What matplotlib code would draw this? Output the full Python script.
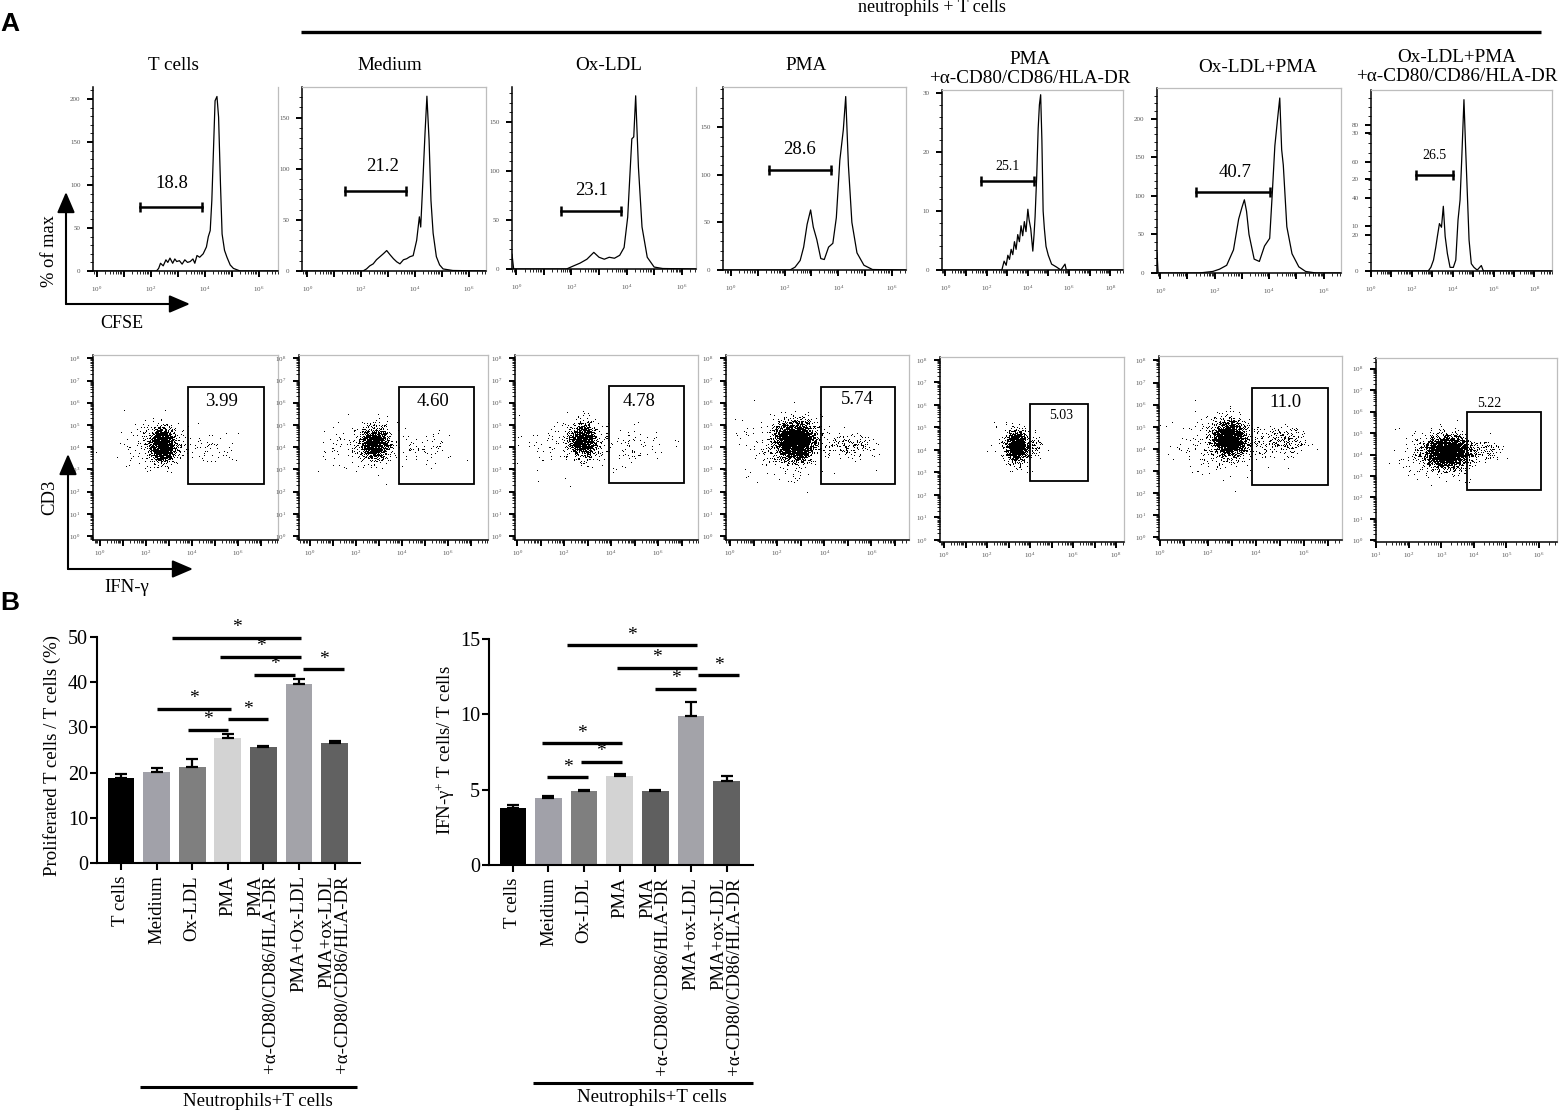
import numpy as np
import matplotlib
matplotlib.use("Agg")
import matplotlib.pyplot as plt
from matplotlib.lines import Line2D
from matplotlib.patches import FancyArrowPatch, Rectangle

plt.rcParams['font.family'] = ['Liberation Serif', 'DejaVu Serif']
plt.rcParams['mathtext.fontset'] = 'custom'
plt.rcParams['mathtext.rm'] = 'Liberation Serif'
plt.rcParams['mathtext.it'] = 'Liberation Serif:italic'
plt.rcParams['mathtext.bf'] = 'Liberation Serif:bold'

# ======================= DATA =======================
# ---- Panel A, row 1: CFSE histograms (x = log10 CFSE, y = count) ----
hist_titles = ['T cells', 'Medium', 'Ox-LDL', 'PMA',
               'PMA\n+α-CD80/CD86/HLA-DR', 'Ox-LDL+PMA',
               'Ox-LDL+PMA\n+α-CD80/CD86/HLA-DR']
hist_gate_labels = ['18.8', '21.2', '23.1', '28.6', '25.1', '40.7', '26.5']
hist_gate_lo = [1.59, 1.41, 1.63, 1.43, 1.72, 1.30, 2.20]
hist_gate_hi = [3.89, 3.67, 3.81, 3.72, 4.32, 4.02, 4.03]
hist_gate_y = [74, 78, 59, 105, 15.1, 105, 52.6]
hist_label_x = [2.78, 2.78, 2.72, 2.56, 3.01, 2.73, 3.12]
hist_label_y = [102, 102, 80, 126, 17.5, 131, 63.6]

tcells_x = [-0.15, 2.2, 2.28, 2.35, 2.45, 2.55, 2.62, 2.7, 2.8, 2.88, 2.95, 3.05, 3.15, 3.25,
            3.35, 3.45, 3.55, 3.62, 3.7, 3.8, 3.93, 4.05, 4.12, 4.19, 4.25, 4.31, 4.37, 4.44,
            4.5, 4.57, 4.63, 4.72, 4.81, 4.93, 5.05, 5.3, 6.7]
tcells_y = [0, 0, 3, 9, 6, 13, 10, 15, 9, 14, 11, 12, 8, 13,
            10, 11, 14, 9, 18, 16, 20, 28, 40, 47, 82, 140, 198, 203,
            179, 101, 43, 24, 16, 7, 3, 0, 0]

medium_x = [-0.2, 2.07, 2.2, 2.32, 2.45, 2.57, 2.7, 2.83, 2.95, 3.07, 3.2, 3.32, 3.44, 3.57,
            3.69, 3.81, 3.93, 4.06, 4.16, 4.21, 4.28, 4.37, 4.44, 4.52, 4.59, 4.67, 4.79,
            4.91, 5.04, 5.4, 6.6]
medium_y = [0, 0, 2, 5, 7, 11, 14, 17, 20, 16, 12, 9, 7, 11,
            12, 14, 15, 30, 53, 43, 82, 135, 171, 128, 69, 37, 14,
            6, 2, 0.5, 0]

oxldl_x = [-0.16, -0.1, 1.82, 2.06, 2.31, 2.56, 2.81, 3.0, 3.19, 3.37, 3.56, 3.75, 3.91,
           4.04, 4.19, 4.26, 4.33, 4.43, 4.56, 4.75, 5.0, 5.31, 6.5]
oxldl_y = [15, 0, 0, 3, 6, 10, 17, 12, 10, 12, 11, 14, 22,
           53, 133, 135, 177, 104, 43, 12, 2, 0.5, 0]

pma_x = [-0.3, 2.2, 2.39, 2.58, 2.71, 2.84, 2.97, 3.07, 3.2, 3.35, 3.48, 3.64, 3.8, 3.93,
         4.06, 4.19, 4.28, 4.38, 4.51, 4.7, 4.96, 5.28, 6.5]
pma_y = [0, 0, 3, 10, 24, 48, 63, 45, 32, 12, 11, 24, 28, 55,
         115, 147, 182, 110, 50, 18, 5, 0.5, 0]

pma_ab_x = [-0.16, 2.74, 2.85, 2.95, 3.03, 3.11, 3.19, 3.27, 3.35, 3.43, 3.51, 3.59, 3.67,
            3.75, 3.83, 3.91, 4.0, 4.06, 4.14, 4.24, 4.3, 4.35, 4.43, 4.5, 4.56, 4.62, 4.68,
            4.74, 4.8, 4.88, 4.99, 5.15, 5.39, 5.6, 5.8, 5.86, 5.96, 8.6]
pma_ab_y = [0, 0, 1.5, 0.8, 2.5, 1.8, 3.5, 2.6, 4.8, 3.5, 6, 4.8, 7.5,
            5.8, 8.2, 6.5, 10.3, 8.5, 7, 3.2, 6, 9, 16, 24, 28, 29.7, 22,
            10, 7, 4, 2.5, 1, 0.5, 0, 1, 0, 0, 0]

oxpma_x = [-0.12, -0.08, 1.43, 1.93, 2.18, 2.44, 2.69, 2.88, 3.0, 3.09, 3.17, 3.26, 3.45,
           3.64, 3.83, 4.02, 4.11, 4.21, 4.31, 4.39, 4.46, 4.52, 4.65, 4.84, 5.09, 5.34,
           5.72, 6.6]
oxpma_y = [27, 0, 0, 2, 5, 10, 30, 70, 85, 95, 80, 50, 18,
           15, 35, 45, 100, 165, 200, 227, 160, 140, 60, 25, 8, 2,
           0, 0]

oxpma_ab_x = [0.03, 2.8, 2.93, 3.06, 3.17, 3.25, 3.35, 3.45, 3.54, 3.63, 3.74, 3.87, 4.03,
              4.15, 4.26, 4.36, 4.44, 4.55, 4.63, 4.72, 4.8, 4.91, 5.04, 5.2, 5.4, 5.5, 8.8]
oxpma_ab_y = [0, 0, 2, 6, 13, 19, 26, 24, 35.5, 19, 9.5, 2, 2,
              6, 28, 39, 61, 94, 68, 41, 17, 4, 2, 0.5, 3, 0, 0]

# ---- Panel A, row 2: CD3 vs IFN-g dot plots (gates in log10 units) ----
dot_gate_labels = ['3.99', '4.60', '4.78', '5.74', '5.03', '11.0', '5.22']
dot_gate_x0 = [3.84, 3.88, 3.91, 3.87, 4.00, 3.83, 3.79]
dot_gate_x1 = [7.14, 7.14, 7.10, 7.02, 6.70, 7.00, 6.06]
dot_gate_y0 = [2.34, 2.34, 2.37, 2.34, 2.60, 2.36, 2.34]
dot_gate_y1 = [6.73, 6.70, 6.75, 6.70, 6.03, 6.74, 6.00]
dot_label_x = [5.29, 5.36, 5.20, 5.40, 5.44, 5.25, 4.48]
dot_label_y = [6.05, 6.05, 6.05, 6.15, 5.51, 6.10, 6.40]
# event clouds: (centre x, centre y, spread x, spread y, density)
cloud_tcells = [(2.78, 4.15, 0.33, 0.38, 3.0), (2.8, 4.4, 0.2, 0.2, 1.5), (2.75, 3.75, 0.2, 0.2, 1.5),
                (2.4, 4.0, 0.85, 0.6, 0.07), (4.9, 3.95, 0.65, 0.32, 0.09)]
cloud_medium = [(2.85, 4.17, 0.32, 0.36, 3.5), (2.4, 4.0, 0.9, 0.6, 0.07), (5.0, 3.95, 0.6, 0.38, 0.1)]
cloud_oxldl = [(2.8, 4.3, 0.3, 0.36, 3.5), (2.3, 4.1, 0.9, 0.6, 0.07), (5.0, 3.95, 0.65, 0.45, 0.08)]
cloud_pma = [(2.77, 4.25, 0.4, 0.42, 6.0), (2.4, 4.0, 0.95, 0.7, 0.1), (5.0, 4.1, 0.6, 0.3, 0.3)]
cloud_pma_ab = [(3.4, 4.15, 0.24, 0.32, 6.0), (4.15, 4.15, 0.25, 0.22, 0.45), (3.3, 4.1, 0.42, 0.52, 0.12)]
cloud_oxpma = [(2.9, 4.45, 0.33, 0.37, 6.0), (5.25, 4.35, 0.45, 0.32, 0.45), (4.0, 4.3, 0.6, 0.35, 0.18),
               (2.5, 4.1, 1.0, 0.7, 0.09)]
cloud_oxpma_ab = [(3.15, 4.1, 0.34, 0.35, 6.0), (4.25, 4.15, 0.3, 0.2, 0.45), (2.9, 4.0, 0.6, 0.6, 0.1)]

# ---- Panel B: bar charts ----
prolif_cats = ['T cells', 'Meidium', 'Ox-LDL', 'PMA', 'PMA\n+α-CD80/CD86/HLA-DR',
               'PMA+Ox-LDL', 'PMA+ox-LDL\n+α-CD80/CD86/HLA-DR']
prolif_mean = [18.8, 20.1, 21.2, 27.7, 25.6, 39.6, 26.5]
prolif_err = [1.0, 1.0, 1.7, 0.9, 0.3, 1.1, 0.4]
prolif_sig_x0 = [1.43, 2.78, 3.74, 5.12, 1.00, 1.87, 3.00]
prolif_sig_x1 = [5.06, 5.06, 4.89, 6.27, 3.09, 3.00, 4.14]
prolif_sig_y = [49.8, 45.6, 41.7, 42.9, 34.1, 29.5, 31.8]

ifn_cats = ['T cells', 'Meidium', 'Ox-LDL', 'PMA', 'PMA\n+α-CD80/CD86/HLA-DR',
            'PMA+ox-LDL', 'PMA+ox-LDL\n+α-CD80/CD86/HLA-DR']
ifn_mean = [3.76, 4.47, 4.91, 5.93, 4.91, 9.91, 5.58]
ifn_err = [0.22, 0.11, 0.09, 0.11, 0.07, 0.93, 0.35]
ifn_sig_x0 = [1.52, 2.92, 3.99, 5.20, 0.82, 1.91, 0.96]
ifn_sig_x1 = [5.17, 5.17, 5.14, 6.35, 3.06, 3.06, 2.11]
ifn_sig_y = [14.6, 13.1, 11.7, 12.6, 8.08, 6.84, 5.82]

bar_colors = ['#000000', '#a1a1a9', '#7f7f7f', '#d3d3d3', '#5f5f5f', '#a3a3a9', '#616161']

# ======================= FIGURE =======================
W, H = 1559, 1112
fig = plt.figure(figsize=(W / 100, H / 100), dpi=100)


def fx(x):
    return x / W


def fy(y):
    return 1 - y / H


def box(l, t, r, b):
    return fig.add_axes([l / W, 1 - b / H, (r - l) / W, (b - t) / H])


def ftext(x, y, s, **kw):
    ha = kw.pop('ha', 'center')
    va = kw.pop('va', 'center')
    fig.text(fx(x), fy(y), s, ha=ha, va=va, **kw)


def fline(x0, x1, y0, y1, lw=2.4):
    fig.add_artist(Line2D([fx(x0), fx(x1)], [fy(y0), fy(y1)], color='black', lw=lw,
                          transform=fig.transFigure, solid_capstyle='butt'))


def farrow(x0, y0, x1, y1):
    fig.add_artist(FancyArrowPatch((fx(x0), fy(y0)), (fx(x1), fy(y1)), transform=fig.transFigure,
                                   arrowstyle='-|>,head_length=0.7,head_width=0.3',
                                   mutation_scale=18, lw=1.5, color='black',
                                   shrinkA=0, shrinkB=0))


def log_ticks(ax, which, lo, hi, labeled, lim, pad):
    majors = list(range(lo, hi + 1))
    minors = [d + np.log10(k) for d in range(lo - 1, hi + 1) for k in range(2, 10)]
    minors = [m for m in minors if lim[0] < m < lim[1]]
    labels = [('$10^{%d}$' % d) if d in labeled else '' for d in majors]
    if which == 'x':
        ax.set_xticks(majors)
        ax.set_xticklabels(labels)
        ax.set_xticks(minors, minor=True)
        ax.tick_params(axis='x', pad=pad)
    else:
        ax.set_yticks(majors)
        ax.set_yticklabels(labels)
        ax.set_yticks(minors, minor=True)
        ax.tick_params(axis='y', pad=pad)


def style_small(ax, frame_top=True, frame_right=True):
    for s in ['left', 'bottom']:
        ax.spines[s].set_linewidth(1.1)
        ax.spines[s].set_color('black')
    for s, on in [('top', frame_top), ('right', frame_right)]:
        ax.spines[s].set_visible(on)
        ax.spines[s].set_color('#bdbdbd')
        ax.spines[s].set_linewidth(0.9)
    ax.tick_params(which='major', length=4, width=1.4, color='black', labelsize=5,
                   labelcolor='#555555', direction='out')
    ax.tick_params(which='minor', length=2, width=0.6, color='black', direction='out')


# ---------------- Panel A row 1 ----------------
hist_boxes = [(93, 87, 278, 271), (302, 87, 486, 271), (512, 87, 696, 269), (723, 87, 906, 270),
              (942, 90, 1123, 270), (1157, 88, 1341, 273), (1371, 90, 1552, 271)]
hist_xlims = [(-0.15, 6.7), (-0.19, 6.63), (-0.16, 6.52), (-0.3, 6.53), (-0.16, 8.61),
              (-0.12, 6.64), (0.03, 8.86)]
hist_ylims = [214, 180, 186, 192, 30.5, 240, 99.3]
hist_curves = [(tcells_x, tcells_y), (medium_x, medium_y), (oxldl_x, oxldl_y), (pma_x, pma_y),
               (pma_ab_x, pma_ab_y), (oxpma_x, oxpma_y), (oxpma_ab_x, oxpma_ab_y)]
hist_title_pos = [(173, 65), (390, 65), (609, 65), (806, 65), (1030, 69), (1258, 68), (1457, 67)]
hist_frames = [(False, True), (True, True), (False, True), (True, True), (True, True),
               (True, True), (True, True)]

for i in range(7):
    l, t, r, b = hist_boxes[i]
    ax = box(l, t, r, b)
    xs, ys = hist_curves[i]
    ax.plot(xs, ys, color='black', lw=0.9, zorder=3)
    ax.set_xlim(*hist_xlims[i])
    ax.set_ylim(0, hist_ylims[i])
    style_small(ax, *hist_frames[i])
    if hist_xlims[i][1] > 8:
        log_ticks(ax, 'x', 0, 8, [0, 2, 4, 6, 8], hist_xlims[i], 6)
    else:
        log_ticks(ax, 'x', 0, 6, [0, 2, 4, 6], hist_xlims[i], 6)
    if i == 4:
        ax.set_yticks([0, 10, 20, 30])
        ax.set_yticks(np.arange(0, 31, 2), minor=True)
    elif i == 6:
        ax.set_yticks([0, 20, 24.5, 40, 50.2, 60, 75.5, 80])
        ax.set_yticklabels(['0', '20', '10', '40', '20', '60', '30', '80'])
        ax.set_yticks(np.arange(0, 99, 5), minor=True)
    else:
        top = hist_ylims[i]
        ax.set_yticks(np.arange(0, top, 50))
        ax.set_yticks(np.arange(0, top, 10), minor=True)
    ax.tick_params(axis='y', pad=5)
    # gate
    small = i in (4, 6)
    ax.plot([hist_gate_lo[i], hist_gate_hi[i]], [hist_gate_y[i]] * 2, color='black', lw=1.8,
            marker='|', markersize=7, mew=1.8, zorder=4)
    ax.text(hist_label_x[i], hist_label_y[i], hist_gate_labels[i], ha='center', va='center',
            fontsize=10 if small else 13.5, zorder=5)
    tx, ty = hist_title_pos[i]
    ftext(tx, ty, hist_titles[i], fontsize=13.8, linespacing=1.2)

# ---------------- Panel A row 2 ----------------
dot_boxes = [(93, 355, 278, 540), (299, 355, 488, 540), (515, 355, 698, 540), (726, 355, 909, 540),
             (940, 357, 1124, 542), (1159, 356, 1342, 540), (1376, 358, 1557, 542)]
dot_xlims = [(-0.29, 7.75), (-0.46, 7.75), (-0.09, 7.7), (-0.17, 7.6), (-0.19, 8.37),
             (-0.04, 7.6), (1.05, 6.55)]
dot_ylims = [(-0.18, 8.15), (-0.18, 8.15), (-0.18, 8.15), (-0.18, 8.15), (-0.09, 8.13),
             (-0.12, 8.2), (-0.08, 8.5)]
dot_clouds = [cloud_tcells, cloud_medium, cloud_oxldl, cloud_pma, cloud_pma_ab, cloud_oxpma,
              cloud_oxpma_ab]


def draw_cloud(ax, l, t, r, b, xlim, ylim, comps):
    w = int(round(r - l))
    h = int(round(b - t))
    xs = xlim[0] + (np.arange(w) + 0.5) / w * (xlim[1] - xlim[0])
    ys = ylim[0] + (np.arange(h) + 0.5) / h * (ylim[1] - ylim[0])
    X, Y = np.meshgrid(xs, ys)
    lam = np.zeros_like(X)
    for cx, cy, sx, sy, wt in comps:
        lam += wt * np.exp(-0.5 * (((X - cx) / sx) ** 2 + ((Y - cy) / sy) ** 2))
    p = 1.0 - np.exp(-lam)
    # fixed per-pixel dither threshold (screen hash) turns the density into single-pixel events
    I, J = np.meshgrid(np.arange(w) + l, np.arange(h) + t)
    thr = np.mod(np.sin(I * 12.9898 + J * 78.233) * 43758.5453, 1.0)
    img = np.zeros((h, w, 4))
    img[..., 3] = (thr < p).astype(float)
    ax.imshow(img, extent=(xlim[0], xlim[1], ylim[0], ylim[1]), origin='lower',
              aspect='auto', interpolation='nearest', zorder=1)


for i in range(7):
    l, t, r, b = dot_boxes[i]
    ax = box(l, t, r, b)
    draw_cloud(ax, l, t, r, b, dot_xlims[i], dot_ylims[i], dot_clouds[i])
    ax.set_xlim(*dot_xlims[i])
    ax.set_ylim(*dot_ylims[i])
    style_small(ax)
    if i == 6:
        log_ticks(ax, 'x', 1, 6, [1, 2, 3, 4, 5, 6], dot_xlims[i], 2)
    elif i == 4:
        log_ticks(ax, 'x', 0, 8, [0, 2, 4, 6, 8], dot_xlims[i], 2)
    else:
        log_ticks(ax, 'x', 0, 7, [0, 2, 4, 6], dot_xlims[i], 2)
    log_ticks(ax, 'y', 0, 8, list(range(9)), dot_ylims[i], 5)
    x0, x1, y0, y1 = dot_gate_x0[i], dot_gate_x1[i], dot_gate_y0[i], dot_gate_y1[i]
    ax.add_patch(Rectangle((x0, y0), x1 - x0, y1 - y0, fill=False, ec='black', lw=1.3, zorder=4))
    small = i in (4, 6)
    ax.text(dot_label_x[i], dot_label_y[i], dot_gate_labels[i], ha='center', va='center',
            fontsize=10 if small else 13.5, zorder=5)

# ---------------- Panel A annotations ----------------
ftext(10, 24, 'A', fontsize=19, fontweight='bold', family='Liberation Sans')
ftext(932, 8, 'neutrophils + T cells', fontsize=13)
fline(301, 1541, 31.5, 31.5, lw=2.4)
farrow(66, 304, 66, 192)
farrow(66, 304, 190, 304)
ftext(50, 251, '% of max', fontsize=13.3, rotation=90)
ftext(122, 323, 'CFSE', fontsize=13)
farrow(68, 569, 68, 454)
farrow(68, 569, 193, 569)
ftext(50, 497, 'CD3', fontsize=13.5, rotation=90)
ftext(127, 588, 'IFN-γ', fontsize=13.5)

# ---------------- Panel B ----------------
ftext(10, 603, 'B', fontsize=19, fontweight='bold', family='Liberation Sans')


def bar_panel(bx, cats, means, errs, sx0, sx1, sy, ylim, yticks, xlim):
    ax = box(*bx)
    x = np.arange(len(means))
    ax.bar(x, means, width=0.75, color=bar_colors, zorder=2)
    ax.errorbar(x, means, yerr=[np.zeros(len(errs)), errs], fmt='none', ecolor='black',
                elinewidth=1.6, capsize=4.6, capthick=1.6, zorder=3)
    ax.set_xlim(*xlim)
    ax.set_ylim(0, ylim)
    ax.set_yticks(yticks)
    ax.set_xticks(x)
    ax.set_xticklabels(cats, rotation=90, ha='center', va='top', multialignment='right',
                       linespacing=0.85, fontsize=13.5)
    ax.tick_params(axis='y', labelsize=14.5, length=5, width=1.5, pad=1.5)
    ax.tick_params(axis='x', length=5, width=1.5, pad=4)
    for s in ['top', 'right']:
        ax.spines[s].set_visible(False)
    for s in ['left', 'bottom']:
        ax.spines[s].set_linewidth(1.5)
    for a0, a1, yy in zip(sx0, sx1, sy):
        ax.plot([a0, a1], [yy, yy], color='black', lw=2.4, clip_on=False,
                solid_capstyle='butt', zorder=4)
        ax.annotate('*', xy=((a0 + a1) / 2, yy), xytext=(0, 10), textcoords='offset pixels',
                    ha='center', va='center', fontsize=14, annotation_clip=False)
    return ax


bar_panel((97, 637, 360, 863), prolif_cats, prolif_mean, prolif_err, prolif_sig_x0,
          prolif_sig_x1, prolif_sig_y, 50, [0, 10, 20, 30, 40, 50], (-0.67, 6.71))
bar_panel((489, 639, 753, 865), ifn_cats, ifn_mean, ifn_err, ifn_sig_x0, ifn_sig_x1,
          ifn_sig_y, 15, [0, 5, 10, 15], (-0.67, 6.74))

ftext(52, 755, 'Proliferated T cells / T cells (%)', fontsize=13.5, rotation=90)
ftext(446, 750, 'IFN-γ$^{+}$ T cells/ T cells', fontsize=13.5, rotation=90)

fline(140, 357, 1087, 1087, lw=2.2)
ftext(258, 1101, 'Neutrophils+T cells', fontsize=13.5)
fline(533, 753, 1083, 1083, lw=2.2)
ftext(652, 1098, 'Neutrophils+T cells', fontsize=13.5)

fig.savefig('out.png', dpi=100)
